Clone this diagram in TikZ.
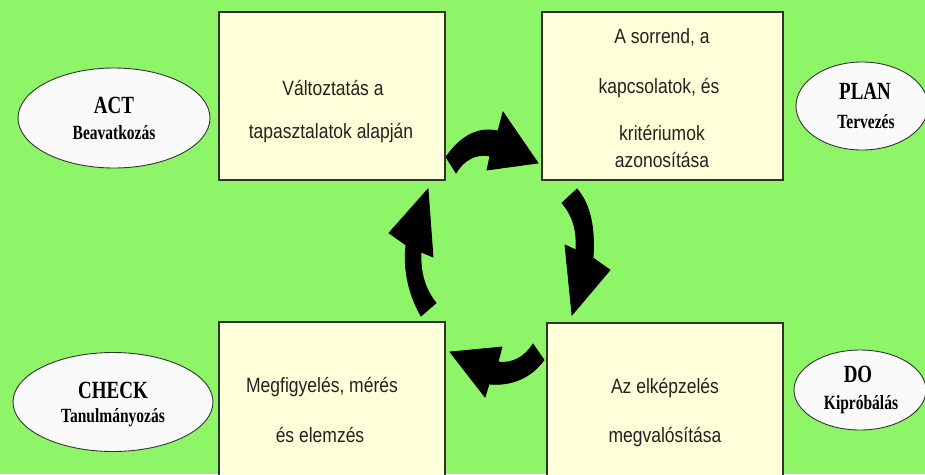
\documentclass[tikz,border=0pt]{standalone}
\usepackage{fontspec}
\usetikzlibrary{shapes.geometric}
\setmainfont{Liberation Serif}
\newfontfamily\arialf{Liberation Sans}
\definecolor{bggreen}{RGB}{143,245,104}
\definecolor{boxfill}{RGB}{255,255,218}
\definecolor{boxline}{RGB}{50,50,45}
\definecolor{txtgray}{RGB}{35,35,30}
\definecolor{ovalfill}{RGB}{250,250,250}
\begin{document}
\begin{tikzpicture}[x=1pt,y=-1pt,
  card/.style={draw=boxline,line width=1.4pt,fill=boxfill,inner sep=0pt},
  oval/.style={ellipse,draw=black!80,line width=0.9pt,fill=ovalfill,inner sep=0pt},
  boxtxt/.style={font=\arialf\fontsize{17.5}{20}\selectfont,text=txtgray,inner sep=0pt},
  ttl/.style={font=\fontsize{19}{22}\selectfont\bfseries,inner sep=0pt},
  sub/.style={font=\fontsize{15.5}{18}\selectfont\bfseries,inner sep=0pt},
  blockarrow/.style={fill=black,draw=black,line width=0.8pt,line join=miter}]
\useasboundingbox (0,0) rectangle (925,474);
\clip (0,0) rectangle (925,474);
\fill[bggreen] (0,0) rectangle (925,474);
% boxes
\node[card,minimum width=226pt,minimum height=168pt] (act) at (332,96) {};
\node[card,minimum width=241pt,minimum height=168pt] (plan) at (662.5,96) {};
\node[card,minimum width=226pt,minimum height=168pt] (check) at (332,406) {};
\node[card,minimum width=236pt,minimum height=168pt] (do) at (665,407) {};
% box texts
\node[boxtxt] (t1) at (333,88) {\scalebox{1}[1.18]{Változtatás a}};
\node[boxtxt] (t2) at (331,133) {\scalebox{1}[1.18]{tapasztalatok alapján}};
\node[boxtxt] (t3) at (662,37) {\scalebox{1}[1.18]{A sorrend, a}};
\node[boxtxt] (t4) at (659,88) {\scalebox{1}[1.18]{kapcsolatok, és}};
\node[boxtxt] (t5) at (662,133) {\scalebox{1}[1.18]{kritériumok}};
\node[boxtxt] (t6) at (662,160) {\scalebox{1}[1.18]{azonosítása}};
\node[boxtxt] (t7) at (322,387) {\scalebox{1}[1.18]{Megfigyelés, mérés}};
\node[boxtxt] (t8) at (320,435) {\scalebox{1}[1.18]{és elemzés}};
\node[boxtxt] (t9) at (665,388) {\scalebox{1}[1.18]{Az elképzelés}};
\node[boxtxt] (t10) at (665,437) {\scalebox{1}[1.18]{megvalósítása}};
% ellipses
\node[oval,minimum width=192pt,minimum height=100pt] (eact) at (114,118) {};
\node[ttl] (eact1) at (114,105) {\scalebox{1}[1.3]{ACT}};
\node[sub] (eact2) at (114,133) {\scalebox{1}[1.3]{Beavatkozás}};
\node[oval,minimum width=132pt,minimum height=88pt] (eplan) at (862,106) {};
\node[ttl] (eplan1) at (865,91) {\scalebox{1}[1.3]{PLAN}};
\node[sub] (eplan2) at (866,122) {\scalebox{1}[1.3]{Tervezés}};
\node[oval,minimum width=200pt,minimum height=99pt] (echeck) at (113,402) {};
\node[ttl] (echeck1) at (113,390) {\scalebox{1}[1.3]{CHECK}};
\node[sub] (echeck2) at (113,418) {\scalebox{1}[1.3]{Tanulmányozás}};
\node[oval,minimum width=132pt,minimum height=80pt] (edo) at (860,390) {};
\node[ttl] (edo1) at (858,374) {\scalebox{1}[1.3]{DO}};
\node[sub] (edo2) at (861,405) {\scalebox{1}[1.3]{Kipróbálás}};
% curved block arrows
\filldraw[blockarrow] (446,157) .. controls (462,134) and (480,127) .. (498,131) -- (503,112) -- (538,163) -- (487,170) -- (490,156) .. controls (475,153) and (463,161) .. (456,173) -- cycle;
\filldraw[blockarrow] (577,189) .. controls (591,205) and (595,230) .. (593,258) -- (610,270) -- (572,315) -- (565,245) -- (576,250) .. controls (577,230) and (573,216) .. (562,203) -- cycle;
\filldraw[blockarrow] (533,344) -- (544,360) .. controls (530,379) and (510,386) .. (489,384) -- (485,397) -- (450,352) -- (502,347) -- (498,362) .. controls (512,364) and (525,357) .. (533,344) -- cycle;
\filldraw[blockarrow] (421,316) -- (436,303) .. controls (426,290) and (420,275) .. (421,252) -- (433,257) -- (428,189) -- (389,233) -- (406,245) .. controls (403,270) and (409,295) .. (421,316) -- cycle;
\end{tikzpicture}
\end{document}
